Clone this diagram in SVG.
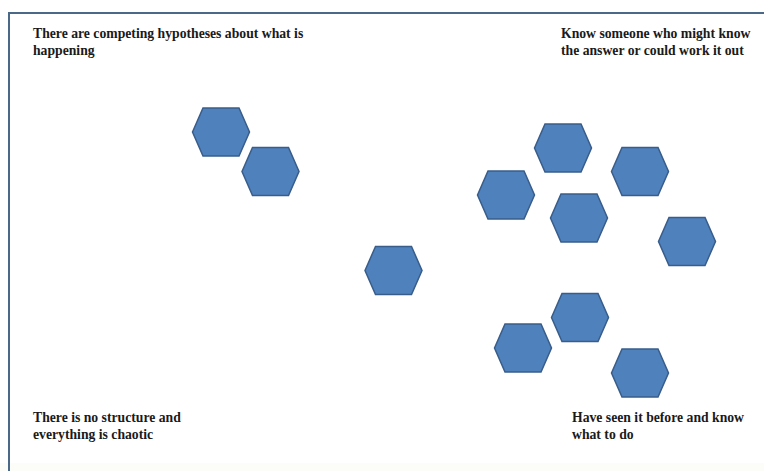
<svg xmlns="http://www.w3.org/2000/svg" width="764" height="471" viewBox="0 0 764 471">
  <style>
    .label { font-family: "Liberation Serif", "Times New Roman", serif; font-weight: bold; font-size: 13.7px; fill: #1a1a1a; }
    .hex { fill: #4f81bd; stroke: #385d8a; stroke-width: 1.5; stroke-linejoin: miter; }
    .frame { stroke: #4a6888; stroke-width: 2; fill: none; }
  </style>
  <defs>
    <polygon id="hexShape" class="hex" points="-28.5,0 -18,-24 18,-24 28.5,0 18,24 -18,24"/>
  </defs>
  <rect x="0" y="0" width="764" height="471" fill="#ffffff"/>
  <rect x="0" y="463" width="764" height="8" fill="#fcfdf9"/>

  <!-- frame: top and left edges -->
  <g id="frame">
    <line class="frame" x1="9" y1="13" x2="764" y2="13"/>
    <line class="frame" x1="9" y1="12" x2="9" y2="471"/>
  </g>

  <!-- quadrant labels -->
  <g id="label-top-left">
    <text class="label" x="33" y="38">There are competing hypotheses about what is</text>
    <text class="label" x="33" y="55">happening</text>
  </g>
  <g id="label-top-right">
    <text class="label" x="561" y="38">Know someone who might know</text>
    <text class="label" x="561" y="55">the answer or could work it out</text>
  </g>
  <g id="label-bottom-left">
    <text class="label" x="33" y="422">There is no structure and</text>
    <text class="label" x="33" y="439">everything is chaotic</text>
  </g>
  <g id="label-bottom-right">
    <text class="label" x="572" y="422">Have seen it before and know</text>
    <text class="label" x="572" y="439">what to do</text>
  </g>

  <!-- hexagons -->
  <g id="hex-1"><use href="#hexShape" x="221" y="132"/></g>
  <g id="hex-2"><use href="#hexShape" x="270.5" y="171.5"/></g>
  <g id="hex-3"><use href="#hexShape" x="393.5" y="270.5"/></g>
  <g id="hex-4"><use href="#hexShape" x="563" y="148"/></g>
  <g id="hex-5"><use href="#hexShape" x="506" y="195"/></g>
  <g id="hex-6"><use href="#hexShape" x="640" y="171.5"/></g>
  <g id="hex-7"><use href="#hexShape" x="579" y="218"/></g>
  <g id="hex-8"><use href="#hexShape" x="687" y="241.5"/></g>
  <g id="hex-9"><use href="#hexShape" x="580" y="317.5"/></g>
  <g id="hex-10"><use href="#hexShape" x="523" y="348"/></g>
  <g id="hex-11"><use href="#hexShape" x="640" y="373"/></g>

  <g id="connectors"></g>
</svg>
